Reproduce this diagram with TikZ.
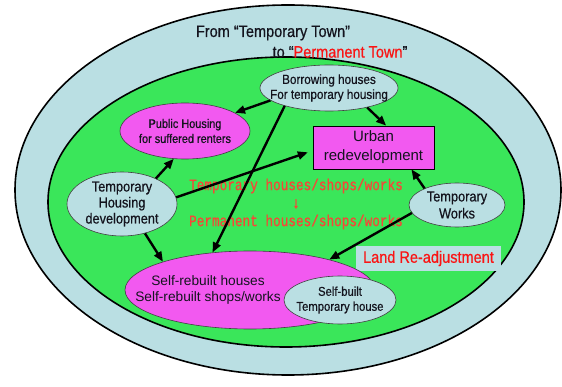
\documentclass[tikz,border=0pt]{standalone}
\usepackage{fontspec}
\setmainfont{Liberation Sans}
\newfontfamily\gothic[FakeStretch=0.88,FakeBold=0.6]{Liberation Sans}
\newfontfamily\gothicmono[FakeStretch=0.8,FakeBold=0.8]{Liberation Mono}
\usetikzlibrary{shapes.geometric,arrows.meta}

\definecolor{paleblue}{RGB}{186,223,227}
\definecolor{fieldgreen}{RGB}{58,230,90}
\definecolor{pink}{RGB}{242,89,240}
\definecolor{titlered}{RGB}{250,20,20}
\definecolor{flowred}{RGB}{245,72,55}
\definecolor{ink}{RGB}{20,20,30}

\tikzset{
  zone/.style={ellipse, draw=black, line width=1.6pt, inner sep=0pt},
  bubble/.style={ellipse, draw=black!75, line width=0.6pt, inner sep=0pt},
  caption/.style={align=center, text=ink, inner sep=0pt},
  flow/.style={-{Triangle[length=10pt,width=8pt]}, line width=2.4pt, black},
}

\begin{document}
\begin{tikzpicture}[x=1pt,y=-1pt]
  \useasboundingbox (0,0) rectangle (562,387);

  % nested zones
  \node[zone, fill=paleblue, minimum width=546pt, minimum height=370pt] (town) at (288,190) {};
  \node[zone, fill=fieldgreen, minimum width=476pt, minimum height=290pt] (field) at (286,202) {};

  % heading
  \node[text=ink, font=\gothic\fontsize{16.5}{18}\selectfont] (from) at (273,33) {From “Temporary Town”};
  \node[text=ink, font=\gothic\fontsize{16.5}{18}\selectfont] (to) at (340,52) {to “\textcolor{titlered}{Permanent Town}”};

  % measures (ellipse outlines keep their size; captions are set as centred labels)
  \node[bubble, fill=paleblue, minimum width=138pt, minimum height=46pt,
        label={[caption, font=\gothic\fontsize{13.3}{15}\selectfont]center:{Borrowing houses\\For temporary housing}}]
        (borrow) at (329,88) {};
  \node[bubble, fill=pink, minimum width=130pt, minimum height=56pt,
        label={[caption, font=\gothic\fontsize{12.4}{15}\selectfont]center:{Public Housing\\for suffered renters}}]
        (public) at (185,131) {};
  \node[draw=black, line width=0.8pt, fill=pink, minimum width=121pt, minimum height=43pt,
        inner sep=0pt, align=center, text=ink, font=\fontsize{15}{19}\selectfont] (urban) at (373.5,147.5)
        {Urban\\redevelopment};
  \node[bubble, fill=paleblue, minimum width=110pt, minimum height=64pt,
        label={[caption, font=\gothic\fontsize{14.5}{16}\selectfont]center:{Temporary\\Housing\\development}}]
        (tmphousing) at (122,204) {};
  \node[bubble, fill=paleblue, minimum width=96pt, minimum height=44pt,
        label={[caption, font=\gothic\fontsize{14.5}{17}\selectfont]center:{Temporary\\Works}}]
        (tmpworks) at (457,205) {};
  \node[fill=paleblue, minimum width=145pt, minimum height=25pt, inner sep=0pt,
        text=titlered, font=\gothic\fontsize{16.5}{18}\selectfont] (landadj) at (428.5,258.5)
        {Land Re-adjustment};

  \node[bubble, fill=pink, minimum width=250pt, minimum height=78pt,
        label={[caption, font=\fontsize{13.7}{16}\selectfont]center:{\hspace*{-84pt}\begin{tabular}{@{}c@{}}Self-rebuilt houses\\Self-rebuilt shops/works\end{tabular}}}]
        (rebuilt) at (250,290) {};
  \node[bubble, fill=paleblue, minimum width=112pt, minimum height=48pt,
        label={[caption, font=\gothic\fontsize{12.8}{15}\selectfont]center:{Self-built\\Temporary house}}]
        (selfbuilt) at (340,300) {};

  % transition in the middle
  \node[align=center, text=flowred, font=\gothicmono\fontsize{15.9}{18}\selectfont] (transition) at (296,204)
        {Temporary houses/shops/works\\↓\\Permanent houses/shops/works};

  % connections
  \draw[flow] (borrow.192) -- (public.20);
  \draw[flow] (borrow.333) -- (urban.60);
  \draw[flow] (borrow.202) -- (rebuilt.135);
  \draw[flow] (tmphousing.37) -- (public.248);
  \draw[flow, shorten >=5pt] (tmphousing.7) -- (urban.183);
  \draw[flow] (tmphousing.308) -- (rebuilt.162);
  \draw[flow] (tmpworks.153) -- (urban.330);
  \draw[flow] (tmpworks.190) -- (rebuilt.21);
\end{tikzpicture}
\end{document}
